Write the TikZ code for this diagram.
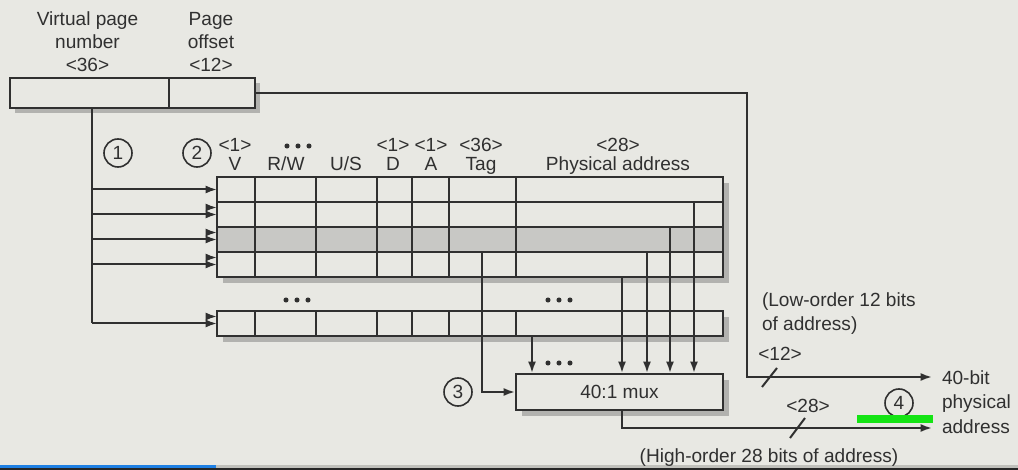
\documentclass[tikz,border=0pt]{standalone}
\usepackage{fontspec}
\setmainfont{Liberation Sans}
\usetikzlibrary{arrows.meta,calc}
\definecolor{bg}{RGB}{232,232,227}
\definecolor{ink}{RGB}{48,48,48}
\definecolor{rowgrey}{RGB}{200,200,197}
\definecolor{shadowc}{RGB}{178,178,175}
\definecolor{mygreen}{RGB}{20,228,20}
\definecolor{barblue}{RGB}{30,128,228}
\definecolor{bargrey}{RGB}{192,192,187}
\begin{document}
\begin{tikzpicture}[x=0.75pt,y=-0.75pt,line width=1.5pt,draw=ink,
  font=\fontsize{14.3}{17}\selectfont,
  arr/.style={-{Latex[length=8.5pt,width=6pt]}},
  lbl/.style={inner sep=0pt,anchor=base,text=ink},
  lblw/.style={inner sep=0pt,anchor=base west,text=ink},
  circ/.style={circle,draw=ink,line width=1.2pt,minimum size=21pt,inner sep=0pt,text=ink},
  boxc/.style={draw=ink,fill=bg,inner sep=0pt}]
\useasboundingbox (0,0) rectangle (1018,470);
\fill[bg] (0,0) rectangle (1018,470);
% bottom bars
\fill[barblue] (0,464.5) rectangle (216,468);
\fill[bargrey] (216,464.5) rectangle (1018,468);
\fill[black!85] (0,468) rectangle (1018,470);

% address register
\fill[shadowc] (15,83) rectangle (260,113);
\node[boxc,minimum width=183.75pt,minimum height=22.5pt] (addr) at (132.5,93) {};
\draw (169,78) -- (169,108);
\coordinate (vpn) at (92,108);
\coordinate (po) at (255,93);
\node[lbl] (t1) at (87.5,26) {Virtual page};
\node[lbl] (t2) at (87.5,49) {number};
\node[lbl] (t3) at (87.5,72) {<36>};
\node[lbl] (t4) at (211,26) {Page};
\node[lbl] (t5) at (211,49) {offset};
\node[lbl] (t6) at (211,72) {<12>};

% TLB table
\fill[shadowc] (223,183) rectangle (729,283);
\fill[bg] (217,177) rectangle (723,277);
\fill[rowgrey] (217,227) rectangle (723,252);
\draw (217,177) rectangle (723,277);
\foreach \yy in {202,227,252} \draw (217,\yy) -- (723,\yy);
\foreach \xx in {255,316,377,412,449,516} \draw (\xx,177) -- (\xx,277);
% last row
\fill[shadowc] (223,317) rectangle (729,342);
\draw[fill=bg] (217,311) rectangle (723,336);
\foreach \xx in {255,316,377,412,449,516} \draw (\xx,311) -- (\xx,336);

% headers
\node[lbl] (h1) at (235,152) {<1>};
\node[lbl] (h1b) at (235,171) {V};
\node[lbl] (h2b) at (286,171) {R/W};
\foreach \dx in {-11,0,11} \fill[ink] (298+\dx,146) circle (1.9pt);
\node[lbl] (h3b) at (346,171) {U/S};
\node[lbl] (h4) at (393,152) {<1>};
\node[lbl] (h4b) at (393,171) {D};
\node[lbl] (h5) at (431,152) {<1>};
\node[lbl] (h5b) at (431,171) {A};
\node[lbl] (h6) at (481,152) {<36>};
\node[lbl] (h6b) at (481,171) {Tag};
\node[lbl] (h7) at (618,152) {<28>};
\node[lbl] (h7b) at (618,171) {Physical address};

% gap dots
\foreach \dx in {-11,0,11} {
  \fill[ink] (297+\dx,300) circle (1.9pt);
  \fill[ink] (559+\dx,300) circle (1.9pt);
  \fill[ink] (559+\dx,363) circle (1.9pt);
}

% circled numbers
\node[circ] (c1) at (118,153) {1};
\node[circ] (c2) at (197,153) {2};
\node[circ] (c3) at (458,392) {3};
\node[circ] (c4) at (899,403) {4};

% VPN fan-out
\coordinate (vbot) at (92,323.5);
\draw (vpn) -- (vbot);
\foreach \ry/\nm in {189.5/r1,214.5/r2,239.5/r3,264.5/r4,323.5/rl} {
  \coordinate (\nm) at (217,\ry);
  \draw[arr] (vpn |- \nm) -- (\nm);
}
\foreach \nm in {r2,r3,r4,rl} \draw[arr] ($(\nm)+(-10,-7)$) -- ($(\nm)+(0,-7)$);

% mux
\fill[shadowc] (522,380) rectangle (729,416);
\node[boxc,minimum width=155.25pt,minimum height=27pt,text=ink] (mux) at (619.5,392) {40:1 mux};

% lines into mux
\coordinate (p1) at (694,202);
\coordinate (p2) at (670,227);
\coordinate (p3) at (647,252);
\coordinate (p4) at (622,277);
\coordinate (p5) at (532,336);
\foreach \p in {p1,p2,p3,p4,p5} \draw[arr] (\p) -- (\p |- mux.north);
\coordinate (tag) at (482,252);
\draw[arr] (tag) |- (mux.west);

% outputs
\coordinate (o1) at (932,377);
\coordinate (o2) at (932,428);
\coordinate (mo) at (622,410);
\draw[arr] (po) -- (747,93) -- (747,377) -- (o1);
\draw[arr] (mo) |- (o2);
\draw (762,387) -- (777,368);
\draw (790,438) -- (805,418);

\node[lblw] (lo1) at (761,307) {(Low-order 12 bits};
\node[lblw] (lo2) at (761,331) {of address)};
\node[lbl] (b12) at (780,361) {<12>};
\node[lbl] (b28) at (808,412) {<28>};
\node[lblw] (pa1) at (941,385) {40-bit};
\node[lblw] (pa2) at (941,408) {physical};
\node[lblw] (pa3) at (941,433) {address};
\node[lbl] (hi) at (769,462) {(High-order 28 bits of address)};

\fill[mygreen] (857,415) rectangle (933,423);
\end{tikzpicture}
\end{document}
